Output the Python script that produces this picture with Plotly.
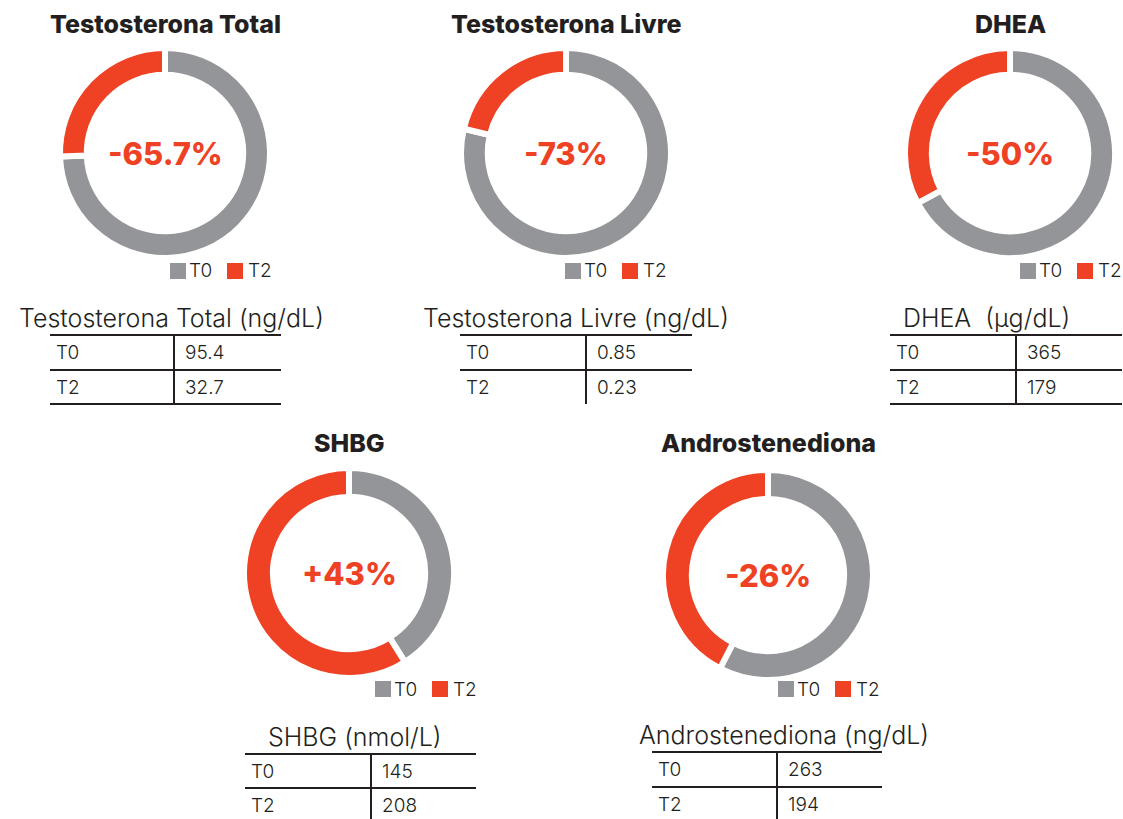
import plotly.graph_objects as go

W, H = 1123, 819

titles = ["Testosterona Total", "Testosterona Livre", "DHEA", "SHBG", "Androstenediona"]
units = ["Testosterona Total (ng/dL)", "Testosterona Livre (ng/dL)", "DHEA  (μg/dL)",
         "SHBG (nmol/L)", "Androstenediona (ng/dL)"]
labels = ["T0", "T2"]
t0_values = [95.4, 0.85, 365, 145, 263]
t2_values = [32.7, 0.23, 179, 208, 194]
t0_text = ["95.4", "0.85", "365", "145", "263"]
t2_text = ["32.7", "0.23", "179", "208", "194"]
changes = ["-65.7%", "-73%", "-50%", "+43%", "-26%"]

GRAY = "#939598"
RED = "#EF4123"
TXT = "#231F20"
FONT = "Inter, Roboto, Arial"

# layout (pixels)
centers = [(165, 153), (566, 153), (1010, 153), (349, 573), (768, 575)]
R = 105
holes = [0.745, 0.745, 0.745, 0.725, 0.725]
title_y = [24, 24, 24, 443, 443]
legend_pos = [(170, 271), (565, 271), (1020, 271), (375, 689), (778, 689)]
tables = [
    dict(tx=171, ty=318, x0=50, x1=281, xv=174, y=(335, 370, 404), bottom=True),
    dict(tx=576, ty=318, x0=460, x1=692, xv=586, y=(335, 370, 404), bottom=False),
    dict(tx=986, ty=318, x0=890, x1=1122, xv=1016, y=(335, 370, 404), bottom=True),
    dict(tx=355, ty=737, x0=245, x1=476, xv=371, y=(754, 788, 822), bottom=False),
    dict(tx=784, ty=735, x0=652, x1=882, xv=777, y=(752, 787, 822), bottom=False),
]

def px(x):
    return x / W

def py(y):
    return 1 - y / H

fig = go.Figure()
annotations = []
shapes = []

for i in range(5):
    cx, cy = centers[i]
    fig.add_trace(go.Pie(
        labels=labels,
        values=[t0_values[i], t2_values[i]],
        hole=holes[i],
        sort=False,
        direction="clockwise",
        rotation=0,
        textinfo="none",
        hoverinfo="label+value",
        marker=dict(colors=[GRAY, RED], line=dict(color="white", width=6)),
        domain=dict(x=[px(cx - R), px(cx + R)], y=[py(cy + R), py(cy - R)]),
        showlegend=False,
    ))
    annotations.append(dict(x=px(cx), y=py(title_y[i]), xref="paper", yref="paper",
                            text=titles[i], showarrow=False,
                            font=dict(family=FONT, size=25, color=TXT, weight=800),
                            xanchor="center", yanchor="middle"))
    annotations.append(dict(x=px(cx), y=py(cy), xref="paper", yref="paper",
                            text=changes[i], showarrow=False,
                            font=dict(family=FONT, size=31, color=RED, weight=800),
                            xanchor="center", yanchor="middle"))
    # legend
    lx, ly = legend_pos[i]
    shapes.append(dict(type="rect", xref="paper", yref="paper",
                       x0=px(lx), x1=px(lx + 16), y0=py(ly + 8), y1=py(ly - 8),
                       fillcolor=GRAY, line=dict(width=0)))
    annotations.append(dict(x=px(lx + 17), y=py(ly), xref="paper", yref="paper",
                            text="T0", showarrow=False, xanchor="left", yanchor="middle",
                            font=dict(family=FONT, size=19, color=TXT, weight=300)))
    shapes.append(dict(type="rect", xref="paper", yref="paper",
                       x0=px(lx + 57), x1=px(lx + 73), y0=py(ly + 8), y1=py(ly - 8),
                       fillcolor=RED, line=dict(width=0)))
    annotations.append(dict(x=px(lx + 76), y=py(ly), xref="paper", yref="paper",
                            text="T2", showarrow=False, xanchor="left", yanchor="middle",
                            font=dict(family=FONT, size=19, color=TXT, weight=300)))
    # table
    t = tables[i]
    annotations.append(dict(x=px(t["tx"]), y=py(t["ty"]), xref="paper", yref="paper",
                            text=units[i], showarrow=False, xanchor="center", yanchor="middle",
                            font=dict(family=FONT, size=25, color=TXT, weight=300)))
    ys = t["y"]
    hlines = [ys[0], ys[1]] + ([ys[2]] if t["bottom"] else [])
    for yy in hlines:
        shapes.append(dict(type="line", xref="paper", yref="paper",
                           x0=px(t["x0"]), x1=px(t["x1"]), y0=py(yy), y1=py(yy),
                           line=dict(color=TXT, width=2)))
    shapes.append(dict(type="line", xref="paper", yref="paper",
                       x0=px(t["xv"]), x1=px(t["xv"]), y0=py(ys[0]), y1=py(min(ys[2], H)),
                       line=dict(color=TXT, width=2)))
    for row, (lab, val) in enumerate([(labels[0], t0_text[i]), (labels[1], t2_text[i])]):
        ymid = (ys[0] + ys[1]) / 2 if row == 0 else ys[1] + 17
        annotations.append(dict(x=px(t["x0"] + 4), y=py(ymid), xref="paper", yref="paper",
                                text=lab, showarrow=False, xanchor="left", yanchor="middle",
                                font=dict(family=FONT, size=19, color=TXT, weight=300)))
        annotations.append(dict(x=px(t["xv"] + 9), y=py(ymid), xref="paper", yref="paper",
                                text=val, showarrow=False, xanchor="left", yanchor="middle",
                                font=dict(family=FONT, size=19, color=TXT, weight=300)))

fig.update_layout(
    width=W, height=H,
    margin=dict(l=0, r=0, t=0, b=0),
    paper_bgcolor="white", plot_bgcolor="white",
    annotations=annotations, shapes=shapes,
    showlegend=False,
)

fig.write_html("out.html", config={"displayModeBar": False},
               post_script="document.body.style.margin='0';document.body.style.overflow='hidden';")
